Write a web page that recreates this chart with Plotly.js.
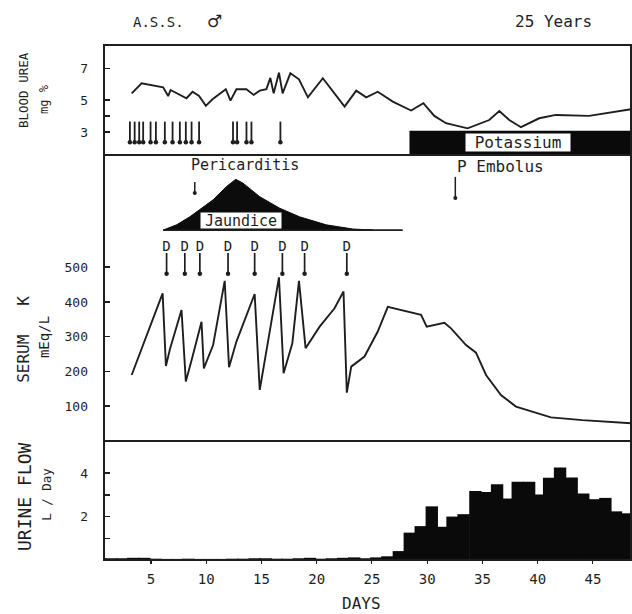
<!DOCTYPE html>
<html>
<head>
<meta charset="utf-8">
<script src="https://cdn.plot.ly/plotly-3.0.1.min.js"></script>
<style>html,body{margin:0;padding:0;background:#fff;}</style>
</head>
<body>
<div id="chart" style="width:632px;height:614px;"></div>
<script>
// ---------- DATA ----------
// Blood urea (mg %) vs day
const ureaDays = [3.26,4.16,6.11,6.56,6.78,8.22,8.77,9.36,9.97,10.57,11.78,12.2,12.74,13.64,14.3,14.85,15.45,15.81,16.11,16.59,16.92,17.62,18.4,19.21,20.56,22.53,23.58,24.49,25.53,26.89,28.55,29.66,30.65,31.71,33.66,35.62,36.53,37.43,38.49,40.14,41.65,44.66,48.45];
const ureaVals = [5.43,6.06,5.81,5.26,5.64,5.12,5.53,5.26,4.64,5.06,5.69,4.97,5.69,5.69,5.33,5.60,5.69,6.40,5.43,6.73,5.43,6.69,6.31,5.18,6.38,4.59,5.60,5.18,5.53,4.91,4.35,4.81,4.01,3.55,3.23,3.75,4.32,3.75,3.30,3.86,4.07,4.01,4.43];
// small down-arrows in the blood urea panel (days)
const ureaArrowDays = [3.1,3.53,3.94,4.3,4.97,5.45,6.26,6.96,7.62,8.16,8.68,9.36,12.43,12.8,13.65,14.1,16.72];
// Potassium therapy bar start (day)
const potassiumStart = 28.4;

// Serum K vs day
const serumDays = [3.26,6.06,6.36,6.72,7.77,8.16,8.77,9.58,9.79,10.63,11.68,12.07,12.74,14.39,14.85,16.59,17.01,17.8,18.4,19.0,20.27,21.62,22.43,22.73,23.13,24.33,25.53,26.44,29.45,29.96,31.56,32.16,33.52,34.42,35.33,36.68,38.04,41.2,44.05,48.45];
const serumVals = [190,425,216,264,377,171,243,343,209,276,461,212,286,423,147,471,195,281,461,267,329,382,430,139,214,243,315,386,363,329,340,324,276,254,190,132,99,68,60,51];
// Dialysis markers "D" (days)
const dialysisDays = [6.42,8.07,9.43,11.98,14.39,16.9,18.91,22.73];
// Jaundice profile (day, height on serum axis)
const jaundiceDays = [6.11,7.32,8.52,9.43,10.63,11.84,12.68,13.34,14.85,16.65,18.46,20.87,23.27,25.08];
const jaundiceVals = [607,622,645,665,694,732,753,742,703,670,645,622,610,607];
const jaundiceLineEnd = 27.79;
// Events: Pericarditis, P Embolus
const eventLabels = ['Pericarditis','P Embolus'];
const eventDays = [8.97,32.55];

// Urine flow (L/Day) bars
const urineDays = [0.4,1.4,2.4,3.4,4.4,5.4,6.4,7.4,8.4,9.4,10.4,11.4,12.4,13.4,14.4,15.4,16.4,17.4,18.4,19.4,20.4,21.4,22.4,23.4,24.4,25.4,
  26.4,27.44,28.43,29.42,30.42,31.38,32.3,33.3,34.37,35.36,36.33,37.25,38.2,39.23,40.15,41.04,42.03,43.08,44.13,45.15,46.13,47.09,48.0];
const urineVals = [0.08,0.08,0.08,0.1,0.1,0.06,0.05,0.05,0.06,0.05,0.05,0.05,0.06,0.06,0.08,0.08,0.06,0.06,0.08,0.1,0.06,0.08,0.1,0.12,0.08,0.12,
  0.17,0.41,1.26,1.56,2.47,1.53,2.0,2.11,3.18,3.13,3.49,2.83,3.6,3.6,3.02,3.79,4.26,3.8,3.06,2.8,2.86,2.24,2.15];

const xTicks = [5,10,15,20,25,30,35,40,45];
const ureaTicks = [3,4,5,7], ureaTickText = ['3','','5','7'];
const serumTicks = [100,200,300,400,500];
const urineTicks = [1,2,3,4], urineTickText = ['','2','','4'];

// ---------- STYLE ----------
const INK = '#1e1e1e';
const MONO = 'DejaVu Sans Mono, monospace';
const XR = [0.755, 48.45];

function stems(days, top, bottom){
  const x=[], y=[];
  days.forEach(d=>{ x.push(d,d,null); y.push(top,bottom,null); });
  return {x,y};
}

const ua = stems(ureaArrowDays, 3.65, 2.35);
const da = stems(dialysisDays, 541, 481);
const evTop = [745,760], evBot = [714,699];
const evx=[], evy=[];
eventDays.forEach((d,i)=>{ evx.push(d,d,null); evy.push(evTop[i],evBot[i],null); });

const traces = [
  {x:ureaDays, y:ureaVals, yaxis:'y', type:'scatter', mode:'lines', line:{color:INK,width:1.9}, hoverinfo:'skip'},
  {x:ua.x, y:ua.y, yaxis:'y', type:'scatter', mode:'lines', line:{color:INK,width:1.8}, hoverinfo:'skip'},
  {x:ureaArrowDays, y:ureaArrowDays.map(()=>2.35), yaxis:'y', type:'scatter', mode:'markers', marker:{color:INK,size:4.5}, hoverinfo:'skip'},
  {x:jaundiceDays.concat([jaundiceDays[0]]), y:jaundiceVals.concat([jaundiceVals[0]]), yaxis:'y2', type:'scatter', mode:'lines', fill:'toself', fillcolor:'#0c0c0c', line:{color:'#0c0c0c',width:1}, hoverinfo:'skip'},
  {x:[jaundiceDays[0], jaundiceLineEnd], y:[jaundiceVals[0], jaundiceVals[0]], yaxis:'y2', type:'scatter', mode:'lines', line:{color:INK,width:1.8}, hoverinfo:'skip'},
  {x:serumDays, y:serumVals, yaxis:'y2', type:'scatter', mode:'lines', line:{color:INK,width:1.9}, hoverinfo:'skip'},
  {x:da.x, y:da.y, yaxis:'y2', type:'scatter', mode:'lines', line:{color:INK,width:1.7}, hoverinfo:'skip'},
  {x:dialysisDays, y:dialysisDays.map(()=>481), yaxis:'y2', type:'scatter', mode:'markers', marker:{color:INK,size:4.5}, hoverinfo:'skip'},
  {x:dialysisDays, y:dialysisDays.map(()=>558), yaxis:'y2', type:'scatter', mode:'text', text:dialysisDays.map(()=>'D'), textfont:{family:MONO,size:14,color:INK}, hoverinfo:'skip'},
  {x:evx, y:evy, yaxis:'y2', type:'scatter', mode:'lines', line:{color:INK,width:1.5}, hoverinfo:'skip'},
  {x:eventDays, y:evBot, yaxis:'y2', type:'scatter', mode:'markers', marker:{color:INK,size:4}, hoverinfo:'skip'},
  {x:urineDays, y:urineVals, yaxis:'y3', type:'bar', width:1.12, marker:{color:'#0a0a0a',line:{width:0}}, hoverinfo:'skip'}
];

const ann = (text, x, y, size, extra) => Object.assign({text, x, y, xref:'x', yref:'y', showarrow:false, xanchor:'center', yanchor:'middle', font:{family:MONO,size,color:INK}}, extra||{});
const pxX = px => (px-104)/527;   // paper x from pixel
const pxY = py => (560-py)/515;   // paper y from pixel

const annotations = [
  ann('A.S.S.', pxX(158), pxY(22), 14, {xref:'paper', yref:'paper'}),
  ann('♂', pxX(214), pxY(21), 17, {xref:'paper', yref:'paper', font:{family:'DejaVu Sans, sans-serif',size:17,color:INK}}),
  ann('25 Years', pxX(553), pxY(22), 16, {xref:'paper', yref:'paper'}),
  ann('Potassium', 38.2, 2.34, 16, {bgcolor:'#fff', width:104, height:17, borderpad:0}),
  ann(eventLabels[0], 13.49, 794, 15, {yref:'y2'}),
  ann(eventLabels[1], 36.66, 789, 16, {yref:'y2'}),
  ann('Jaundice', 13.13, 635, 15, {yref:'y2', bgcolor:'#fff', width:80, height:15, borderpad:0}),
  ann('BLOOD UREA', pxX(24), 5.64, 12.5, {xref:'paper', textangle:-90}),
  ann('mg %', pxX(44), 5.08, 12, {xref:'paper', textangle:-90}),
  ann('SERUM   K', pxX(24), 291, 16, {xref:'paper', yref:'y2', textangle:-90}),
  ann('mEq/L', pxX(44), 299, 14, {xref:'paper', yref:'y2', textangle:-90}),
  ann('URINE FLOW', pxX(24), 2.9, 18, {xref:'paper', yref:'y3', textangle:-90}),
  ann('L / Day', pxX(47), 3.0, 12.5, {xref:'paper', yref:'y3', textangle:-90}),
  ann('DAYS', pxX(361), pxY(603), 16, {xref:'paper', yref:'paper'})
];

const yCommon = {anchor:'x', showgrid:false, zeroline:false, showline:false, ticks:'inside', ticklen:6, tickwidth:1.5, tickcolor:INK, tickfont:{family:MONO,size:13,color:INK}, ticklabelstandoff:15, fixedrange:true};

const layout = {
  width:632, height:614,
  margin:{l:104, r:1, t:45, b:54},
  paper_bgcolor:'#fff', plot_bgcolor:'#fff',
  showlegend:false,
  xaxis:{range:XR, anchor:'y3', showgrid:false, zeroline:false, showline:false, tickvals:xTicks, ticks:'outside', ticklen:3, tickwidth:1.2, tickcolor:INK, tickfont:{family:MONO,size:14,color:INK}, ticklabelstandoff:3},
  yaxis:Object.assign({}, yCommon, {domain:[0.7864,1], range:[1.55,8.47], tickvals:ureaTicks, ticktext:ureaTickText}),
  yaxis2:Object.assign({}, yCommon, {domain:[0.2311,0.7864], range:[0,823], tickvals:serumTicks}),
  yaxis3:Object.assign({}, yCommon, {domain:[0,0.2311], range:[0,5.48], tickvals:urineTicks, ticktext:urineTickText}),
  barmode:'overlay',
  shapes:[
    {type:'rect', xref:'x', yref:'y', x0:potassiumStart, x1:XR[1], y0:1.55, y1:3.08, fillcolor:'#0a0a0a', line:{width:0}},
    {type:'rect', xref:'paper', yref:'paper', x0:0, x1:1, y0:0, y1:1, line:{color:INK,width:2}},
    {type:'line', xref:'paper', yref:'paper', x0:0, x1:1, y0:0.7864, y1:0.7864, line:{color:INK,width:2}},
    {type:'line', xref:'paper', yref:'paper', x0:0, x1:1, y0:0.2311, y1:0.2311, line:{color:INK,width:2}}
  ],
  annotations
};

Plotly.newPlot('chart', traces, layout, {staticPlot:true, displayModeBar:false});
</script>
</body>
</html>
